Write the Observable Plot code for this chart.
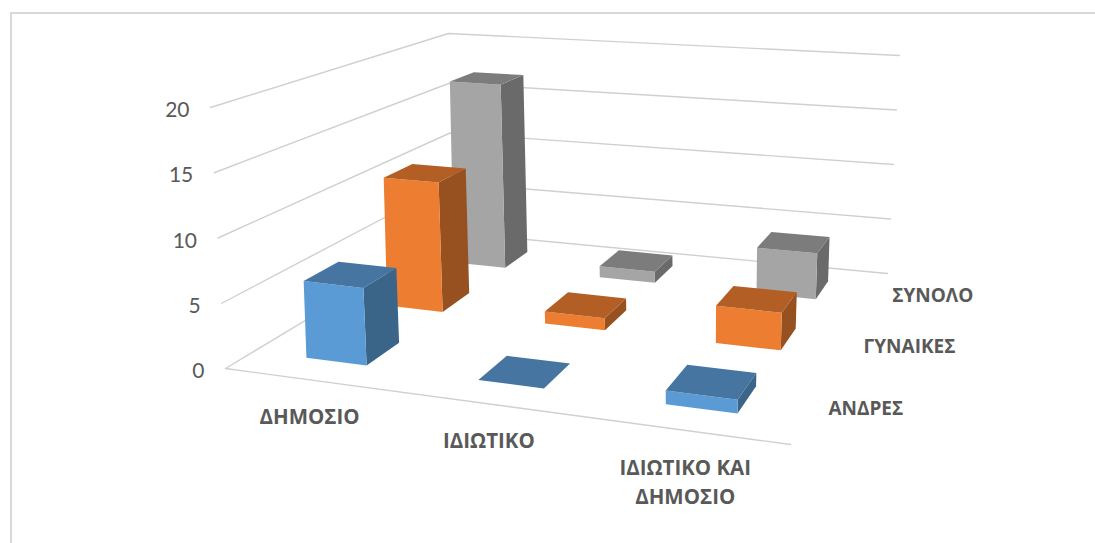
<!DOCTYPE html>
<html lang="el">
<head>
<meta charset="utf-8">
<script src="https://cdn.jsdelivr.net/npm/d3@7"></script>
<script src="https://cdn.jsdelivr.net/npm/@observablehq/plot@0.6"></script>
<style>
  html, body { margin: 0; padding: 0; background: #fff; }
  svg { display: block; }
</style>
</head>
<body>
<div id="chart"></div>
<script>
// Employment sector by gender, three-dimensional column chart.
const categories = ["ΔΗΜΟΣΙΟ", "ΙΔΙΩΤΙΚΟ", "ΙΔΙΩΤΙΚΟ ΚΑΙ\nΔΗΜΟΣΙΟ"];
const seriesNames = ["ΑΝΔΡΕΣ", "ΓΥΝΑΙΚΕΣ", "ΣΥΝΟΛΟ"];
const men = [6, 0, 1];
const women = [11, 1, 3];
const total = [17, 1, 4];
const valueTicks = [0, 5, 10, 15, 20];

// Shades per series: lit front, top, shaded side.
const frontColors = ["#5b9bd5", "#ed7d31", "#a5a5a5"];
const topColors = ["#4575a0", "#b25e25", "#7c7c7c"];
const sideColors = ["#3a6488", "#97501f", "#6a6a6a"];

const seriesValues = [men, women, total];
const width = 1095, height = 543;
const valueMax = 20;

// Perspective box: floor and ceiling quads as seen by the camera
// (front-left, front-right, back-right, back-left).
const floorQuad = [[225, 368], [790, 444], [887, 273], [451, 232]];
const ceilQuad = [[210, 107], [802, 157], [899, 55], [448, 33]];
// Columns rise a little straighter than the splayed left wall.
const barCeilQuad = [[217, 107], [802, 157], [899, 55], [448, 33]];

function quadMap(q) {
  const [[x0, y0], [x1, y1], [x2, y2], [x3, y3]] = q;
  const dx1 = x1 - x2, dx2 = x3 - x2, sx = x0 - x1 + x2 - x3;
  const dy1 = y1 - y2, dy2 = y3 - y2, sy = y0 - y1 + y2 - y3;
  const det = dx1 * dy2 - dx2 * dy1;
  const g = (sx * dy2 - dx2 * sy) / det, h = (dx1 * sy - sx * dy1) / det;
  const a = x1 - x0 + g * x1, b = x3 - x0 + h * x3;
  const d = y1 - y0 + g * y1, e = y3 - y0 + h * y3;
  return (u, v) => {
    const k = g * u + h * v + 1;
    return [(a * u + b * v + x0) / k, (d * u + e * v + y0) / k];
  };
}
const floorAt = quadMap(floorQuad), ceilAt = quadMap(ceilQuad), barCeilAt = quadMap(barCeilQuad);

// u: along the categories, v: into the depth, value: up the wall.
function project(u, v, value, top = ceilAt) {
  const t = value / valueMax;
  const [fx, fy] = floorAt(u, v), [cx, cy] = top(u, v);
  return [fx + (cx - fx) * t, fy + (cy - fy) * t];
}

const halfWidth = 0.06, halfDepth = 0.067;
const nCat = categories.length, nSer = seriesNames.length;

// Build one closed outline per visible bar face, back rows first.
const faces = [];
function addFace(id, fill, corners) {
  for (const [u, v, value] of corners) {
    const [x, y] = project(u, v, value, barCeilAt);
    faces.push({id, fill, x, y});
  }
}
for (let s = nSer - 1; s >= 0; --s) {
  for (let c = 0; c < nCat; ++c) {
    const value = seriesValues[s][c];
    const u0 = (c + 0.5) / nCat - halfWidth, u1 = (c + 0.5) / nCat + halfWidth;
    const v0 = (s + 0.5) / nSer - halfDepth, v1 = (s + 0.5) / nSer + halfDepth;
    const key = `${s}-${c}`;
    addFace(`${key}-side`, sideColors[s], [[u1, v0, 0], [u1, v1, 0], [u1, v1, value], [u1, v0, value]]);
    addFace(`${key}-front`, frontColors[s], [[u0, v0, 0], [u1, v0, 0], [u1, v0, value], [u0, v0, value]]);
    addFace(`${key}-top`, topColors[s], [[u0, v0, value], [u1, v0, value], [u1, v1, value], [u0, v1, value]]);
  }
}

// Grid: left wall and back wall at every tick, plus the front floor edge.
const grid = [];
function addGrid(id, pts) {
  for (const [u, v, value] of pts) {
    const [x, y] = project(u, v, value);
    grid.push({id, x, y});
  }
}
for (const t of valueTicks) addGrid(`wall-${t}`, [[0, 0, t], [0, 1, t], [1, 1, t]]);
addGrid("front", [[0, 0, 0], [1, 0, 0]]);

const valueLabels = valueTicks.map((t) => {
  const [x, y] = project(0, 0, t);
  return {label: String(t), x, y};
});
const categoryLabels = categories.map((label, c) => {
  const [x, y] = project((c + 0.5) / nCat, 0, 0);
  return {label, x, y};
});
const seriesLabels = seriesNames.map((label, s) => {
  const [x, y] = project(1, (s + 0.5) / nSer, 0);
  return {label, x, y};
});

const numberFont = "Lato, 'Open Sans', sans-serif";
const labelFont = "'Open Sans', 'Noto Sans', sans-serif";
const labelGrey = "#595959";

const chart = Plot.plot({
  width, height,
  margin: 0,
  style: {background: "#fff", fontFamily: numberFont},
  x: {domain: [0, width], range: [0, width], axis: null},
  y: {domain: [0, height], range: [0, height], axis: null},
  marks: [
    Plot.ruleX([10.5], {y1: 12, y2: height, stroke: "#d9d9d9", strokeWidth: 2}),
    Plot.ruleY([12.5], {x1: 10, x2: width, stroke: "#d9d9d9", strokeWidth: 2}),
    Plot.line(grid, {x: "x", y: "y", z: "id", stroke: "#d0d0d0", strokeWidth: 1.4}),
    Plot.line(faces, {x: "x", y: "y", z: "id", fill: "fill", stroke: null, curve: "linear-closed"}),
    Plot.text(valueLabels, {x: "x", y: "y", text: "label", textAnchor: "end", dx: -21, dy: 3, fontSize: 21, fill: labelGrey}),
    Plot.text(categoryLabels, {x: "x", y: "y", text: "label", dy: 24, lineAnchor: "top", lineHeight: 1.41, fontSize: 20.5, fontWeight: 700, fontFamily: labelFont, fill: labelGrey}),
    Plot.text(seriesLabels, {x: "x", y: "y", text: "label", textAnchor: "start", dx: 17, dy: 1, fontSize: 19, fontWeight: 700, fontFamily: labelFont, fill: labelGrey})
  ]
});
document.getElementById("chart").append(chart);
</script>
</body>
</html>
